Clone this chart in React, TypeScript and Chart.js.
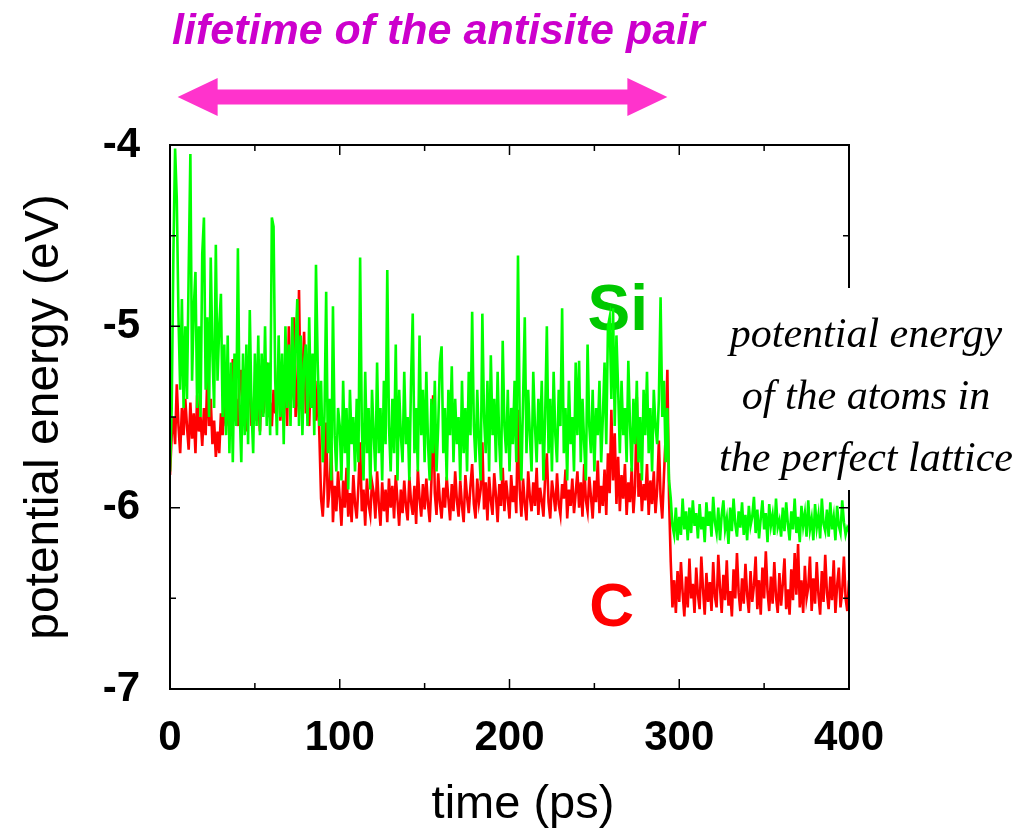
import React, { useEffect, useRef } from "react";
import { Chart, registerables } from "chart.js";

Chart.register(...registerables);

// Potential energy of the Si atom (eV), one sample per ps, t = 0 .. 400
const siEnergy = [
  -5.80, -5.45, -4.60, -4.02, -4.30, -4.95, -5.35, -4.85, -5.45, -5.00,
  -5.40, -4.70, -4.05, -5.30, -4.90, -4.70, -5.45, -5.00, -5.50, -4.60,
  -4.40, -5.35, -4.95, -5.50, -4.62, -5.15, -5.45, -4.55, -5.30, -5.00,
  -4.82, -5.50, -5.10, -5.60, -5.05, -5.70, -5.20, -5.75, -5.15, -5.55,
  -4.57, -5.45, -5.75, -5.15, -5.60, -5.10, -5.65, -4.91, -5.45, -5.70,
  -5.15, -5.55, -5.05, -5.60, -5.15, -5.50, -5.00, -5.55, -5.20, -5.60,
  -4.40, -4.45, -5.30, -5.60, -5.05, -5.50, -5.15, -5.65, -5.00, -5.45,
  -5.10, -5.55, -4.95, -5.45, -5.10, -4.85, -5.55, -5.05, -5.60, -5.20,
  -5.10, -5.55, -4.95, -5.45, -5.15, -5.60, -4.66, -5.20, -5.55, -5.30,
  -5.75, -5.50, -4.81, -5.70, -5.40, -5.85, -4.89, -5.60, -5.80, -5.45,
  -5.55, -5.85, -5.30, -5.70, -5.45, -5.90, -5.35, -5.65, -5.50, -5.80,
  -5.40, -5.75, -4.62, -5.55, -5.85, -5.25, -5.70, -5.45, -5.90, -5.35,
  -5.60, -5.80, -5.20, -5.70, -5.45, -5.85, -5.30, -5.65, -4.69, -5.55,
  -5.80, -5.40, -5.70, -5.10, -5.85, -5.35, -5.60, -5.75, -5.25, -5.65,
  -5.50, -5.85, -5.30, -4.93, -5.70, -5.45, -5.80, -5.05, -5.60, -5.35,
  -5.75, -5.25, -5.65, -5.85, -5.40, -5.70, -5.30, -5.80, -5.55, -5.20,
  -5.11, -5.70, -5.45, -5.85, -5.35, -5.60, -5.22, -5.75, -5.40, -5.65,
  -5.50, -5.85, -5.30, -5.70, -5.45, -5.80, -5.25, -5.60, -4.92, -5.55,
  -5.75, -5.35, -5.65, -5.85, -4.93, -5.50, -5.70, -5.30, -5.80, -5.16,
  -5.60, -5.40, -5.75, -5.25, -5.65, -5.85, -5.08, -5.55, -5.70, -5.35,
  -5.80, -5.45, -5.65, -5.30, -5.75, -4.61, -5.50, -5.85, -5.40, -4.95,
  -5.70, -5.35, -5.60, -5.80, -5.25, -5.55, -5.75, -5.40, -5.65, -5.30,
  -5.85, -5.50, -5.00, -5.70, -5.40, -5.80, -5.25, -5.60, -5.75, -5.35,
  -5.55, -4.90, -5.70, -5.45, -5.85, -5.30, -5.65, -5.50, -5.80, -5.20,
  -5.60, -5.19, -5.75, -5.40, -5.65, -5.85, -5.10, -5.55, -5.70, -5.35,
  -5.80, -5.45, -5.60, -5.30, -5.75, -5.50, -5.20, -5.65, -5.00, -4.95,
  -5.40, -4.90, -5.55, -5.05, -5.35, -5.70, -5.30, -5.60, -5.45, -5.75,
  -5.19, -5.55, -5.80, -5.40, -5.65, -5.30, -5.75, -5.50, -5.85, -5.35,
  -5.60, -5.25, -5.70, -5.45, -5.80, -5.35, -5.55, -5.65, -5.40, -4.84,
  -5.50, -5.30, -5.75, -5.45, -5.85, -5.95, -6.10, -6.15, -6.00, -6.18,
  -6.05, -6.15, -5.95, -6.12, -6.02, -6.18, -6.00, -6.14, -5.96, -6.10,
  -6.03, -6.17, -5.98, -6.12, -6.05, -6.19, -5.97, -6.10, -6.02, -6.16,
  -5.94, -6.08, -6.14, -6.00, -6.18, -6.04, -5.96, -6.12, -6.06, -6.20,
  -6.00, -6.13, -5.95, -6.09, -6.16, -6.02, -6.11, -5.97, -6.15, -6.04,
  -6.18, -5.99, -6.10, -6.05, -5.94, -6.14, -6.01, -6.17, -6.06, -5.96,
  -6.12, -6.03, -6.19, -5.98, -6.10, -6.04, -6.15, -5.95, -6.11, -6.07,
  -6.16, -6.00, -6.13, -5.97, -6.09, -6.18, -6.02, -6.12, -5.95, -6.14,
  -6.05, -6.19, -5.99, -6.10, -6.03, -6.16, -5.96, -6.12, -6.06, -6.18,
  -5.98, -6.11, -6.04, -6.17, -5.95, -6.09, -6.13, -6.01, -6.16, -5.97,
  -6.12, -6.05, -6.18, -5.99, -6.10, -6.14, -5.96, -6.08, -6.15, -6.11,
  -6.13,
];

// Potential energy of the C atom (eV), one sample per ps, t = 0 .. 400
const cEnergy = [
  -5.82, -5.60, -5.50, -5.65, -5.32, -5.55, -5.70, -5.45, -5.60, -5.40,
  -5.55, -5.68, -5.42, -5.62, -5.48, -5.70, -5.38, -5.58, -5.50, -5.66,
  -5.45, -5.60, -5.27, -5.55, -5.40, -5.65, -5.52, -5.72, -5.58, -5.70,
  -5.48, -5.60, -5.40, -5.55, -5.35, -5.62, -5.45, -5.18, -5.50, -5.40,
  -5.55, -5.32, -5.24, -5.50, -5.38, -5.58, -5.42, -5.30, -5.55, -5.45,
  -5.35, -5.52, -5.40, -5.58, -5.30, -5.48, -5.38, -5.20, -5.50, -5.42,
  -5.55, -5.35, -5.48, -5.40, -5.16, -5.52, -5.38, -5.45, -5.30, -5.55,
  -5.00, -5.42, -5.35, -4.95, -5.50, -5.40, -4.80, -5.45, -5.30, -5.03,
  -5.48, -5.35, -5.55, -5.25, -5.45, -5.38, -5.52, -5.30, -5.60, -5.95,
  -6.05, -5.85, -5.53, -6.00, -5.90, -5.64, -6.08, -5.88, -6.02, -5.80,
  -5.95, -6.10, -5.85, -6.00, -5.78, -6.05, -5.92, -6.08, -5.82, -5.98,
  -6.06, -5.88, -5.64, -6.02, -5.90, -6.10, -5.84, -5.98, -6.04, -5.86,
  -5.92, -6.06, -5.80, -5.98, -6.10, -5.86, -6.02, -5.90, -6.08, -5.84,
  -6.00, -5.88, -6.06, -5.82, -5.96, -6.10, -5.90, -6.03, -5.85, -5.99,
  -6.07, -5.83, -5.97, -6.04, -5.88, -6.09, -5.79, -5.95, -6.05, -5.87,
  -6.01, -5.84, -5.98, -6.08, -5.86, -5.38, -5.92, -6.04, -5.81, -5.97,
  -6.06, -5.89, -6.00, -5.83, -5.95, -6.07, -5.87, -6.02, -5.80, -5.96,
  -6.05, -5.85, -5.99, -6.08, -5.82, -5.94, -6.03, -5.88, -5.76, -5.98,
  -6.06, -5.84, -5.97, -5.90, -5.64, -6.01, -5.86, -6.07, -5.83, -5.96,
  -6.04, -5.81, -5.93, -6.08, -5.87, -5.99, -5.78, -6.02, -5.85, -5.95,
  -6.06, -5.82, -5.97, -5.88, -6.03, -5.46, -5.90, -6.05, -5.84, -5.98,
  -6.07, -5.80, -5.94, -6.02, -5.86, -5.99, -5.78, -6.04, -5.89, -5.96,
  -6.05, -5.83, -5.70, -5.97, -6.06, -5.85, -5.93, -6.02, -5.81, -5.98,
  -6.04, -5.87, -5.95, -5.79, -6.06, -5.90, -5.99, -5.84, -6.03, -5.92,
  -5.80, -6.00, -5.86, -6.05, -5.76, -5.96, -6.02, -5.83, -5.94, -6.06,
  -5.85, -5.97, -5.74, -6.03, -5.88, -5.99, -5.79, -6.04, -5.70, -5.92,
  -5.46, -5.85, -5.59, -5.98, -5.72, -6.02, -5.82, -5.95, -5.76, -6.04,
  -5.86, -5.97, -5.78, -6.03, -5.88, -5.39, -5.94, -5.81, -6.02, -5.87,
  -5.96, -5.76, -6.04, -5.85, -5.98, -5.80, -6.03, -5.90, -5.63, -5.94,
  -6.06, -5.82, -5.60, -5.24, -5.95, -6.30, -6.55, -6.40, -6.58, -6.35,
  -6.52, -6.30, -6.47, -6.60, -6.38, -6.55, -6.28, -6.50, -6.42, -6.58,
  -6.33, -6.48, -6.56, -6.27, -6.45, -6.59, -6.36, -6.52, -6.41, -6.57,
  -6.30, -6.49, -6.55, -6.26, -6.44, -6.58, -6.37, -6.51, -6.29, -6.54,
  -6.46, -6.60, -6.34, -6.50, -6.25, -6.47, -6.57, -6.39, -6.53, -6.31,
  -6.48, -6.58, -6.35, -6.52, -6.43, -6.27, -6.56, -6.40, -6.59, -6.33,
  -6.50, -6.24, -6.46, -6.57, -6.38, -6.53, -6.30, -6.49, -6.58, -6.36,
  -6.54, -6.42, -6.28, -6.56, -6.45, -6.59, -6.34, -6.51, -6.25, -6.48,
  -6.20, -6.55, -6.40, -6.58, -6.32, -6.50, -6.44, -6.27, -6.57, -6.39,
  -6.53, -6.30, -6.48, -6.59, -6.35, -6.52, -6.26, -6.47, -6.56, -6.38,
  -6.51, -6.29, -6.58, -6.43, -6.33, -6.55, -6.46, -6.27, -6.50, -6.57,
  -6.40,
];

const timeStepPs = 1;
const xTickValues = [0, 100, 200, 300, 400];
const xMinorTicks = [50, 150, 250, 350];
const yTickValues = [-7, -6, -5, -4];
const yMinorTicks = [-6.5, -5.5, -4.5];

const chartTitle = "lifetime of the antisite pair";
const arrowFromPs = 4.5;
const arrowToPs = 293;
const xAxisTitle = "time (ps)";
const yAxisTitle = "potential energy (eV)";
const noteLines = ["potential energy", "of the atoms in", "the perfect lattice"];
const siLabel = { text: "Si", t: 246, e: -5.02 };
const cLabel = { text: "C", t: 247, e: -6.65 };

const SANS = "'Liberation Sans', Arial, Helvetica, sans-serif";
const SERIF = "'Liberation Serif', 'Times New Roman', serif";

const decorPlugin = {
  id: "decor",
  beforeDatasetsDraw(chart: any) {
    const { ctx, scales } = chart;
    const x = scales.x;
    const y = scales.y;
    ctx.save();
    ctx.textAlign = "left";
    ctx.textBaseline = "alphabetic";
    ctx.font = `bold 64px ${SANS}`;
    ctx.fillStyle = "#00c800";
    ctx.fillText(siLabel.text, x.getPixelForValue(siLabel.t), y.getPixelForValue(siLabel.e));
    ctx.font = `bold 62px ${SANS}`;
    ctx.fillStyle = "#ff0000";
    ctx.fillText(cLabel.text, x.getPixelForValue(cLabel.t), y.getPixelForValue(cLabel.e));
    ctx.restore();
  },
  afterDatasetsDraw(chart: any) {
    const { ctx, chartArea, scales } = chart;
    const { left, right, top, bottom } = chartArea;
    const x = scales.x;
    const y = scales.y;
    ctx.save();
    ctx.strokeStyle = "#000";
    ctx.lineWidth = 2;
    ctx.strokeRect(left, top, right - left, bottom - top);
    ctx.lineWidth = 1.5;
    ctx.beginPath();
    const xt = (v: number, len: number) => {
      const px = x.getPixelForValue(v);
      ctx.moveTo(px, bottom);
      ctx.lineTo(px, bottom - len);
      ctx.moveTo(px, top);
      ctx.lineTo(px, top + len);
    };
    const yt = (v: number, len: number) => {
      const py = y.getPixelForValue(v);
      ctx.moveTo(left, py);
      ctx.lineTo(left + len, py);
      ctx.moveTo(right, py);
      ctx.lineTo(right - len, py);
    };
    xTickValues.forEach((v) => xt(v, 10));
    xMinorTicks.forEach((v) => xt(v, 6));
    yTickValues.forEach((v) => yt(v, 10));
    yMinorTicks.forEach((v) => yt(v, 6));
    ctx.stroke();
    ctx.restore();
  },
  afterDraw(chart: any) {
    const { ctx, scales } = chart;
    const x = scales.x;
    ctx.save();
    // title
    ctx.font = `italic bold 43px ${SANS}`;
    ctx.fillStyle = "#cc00cc";
    ctx.textAlign = "left";
    ctx.textBaseline = "alphabetic";
    ctx.fillText(chartTitle, 172, 44);
    // x axis title
    ctx.font = `47px ${SANS}`;
    ctx.fillStyle = "#000";
    ctx.textAlign = "center";
    ctx.textBaseline = "middle";
    ctx.fillText(xAxisTitle, 523, 805);
    // double arrow
    const x0 = x.getPixelForValue(arrowFromPs);
    const x1 = x.getPixelForValue(arrowToPs);
    const cy = 97;
    const headLen = 40;
    const headHalf = 19;
    const shaftHalf = 7.5;
    ctx.fillStyle = "#ff33cc";
    ctx.beginPath();
    ctx.moveTo(x0, cy);
    ctx.lineTo(x0 + headLen, cy - headHalf);
    ctx.lineTo(x0 + headLen, cy - shaftHalf);
    ctx.lineTo(x1 - headLen, cy - shaftHalf);
    ctx.lineTo(x1 - headLen, cy - headHalf);
    ctx.lineTo(x1, cy);
    ctx.lineTo(x1 - headLen, cy + headHalf);
    ctx.lineTo(x1 - headLen, cy + shaftHalf);
    ctx.lineTo(x0 + headLen, cy + shaftHalf);
    ctx.lineTo(x0 + headLen, cy + headHalf);
    ctx.closePath();
    ctx.fill();
    // note box
    ctx.fillStyle = "#ffffff";
    ctx.fillRect(712, 288, 314, 202);
    ctx.fillStyle = "#000";
    ctx.font = `italic 42px ${SERIF}`;
    ctx.textAlign = "center";
    ctx.textBaseline = "alphabetic";
    noteLines.forEach((line, i) => {
      ctx.fillText(line, 866, 347 + i * 62);
    });
    ctx.restore();
  },
};

export default function App() {
  const canvasRef = useRef<HTMLCanvasElement>(null);

  useEffect(() => {
    const canvas = canvasRef.current;
    if (!canvas) return;
    const toPoints = (arr: number[]) => arr.map((v, i) => ({ x: i * timeStepPs, y: v }));
    const tickFont = { family: SANS, size: 42, weight: "bold" as const };
    const titleFont = { family: SANS, size: 48, weight: "normal" as const, lineHeight: 1.2 };
    const chart = new Chart(canvas, {
      type: "line",
      data: {
        datasets: [
          {
            label: "Si",
            data: toPoints(siEnergy),
            borderColor: "#00ff00",
            borderWidth: 2.6,
            pointRadius: 0,
            tension: 0,
            fill: false,
            order: 0,
          },
          {
            label: "C",
            data: toPoints(cEnergy),
            borderColor: "#ff0000",
            borderWidth: 2.6,
            pointRadius: 0,
            tension: 0,
            fill: false,
            order: 1,
          },
        ],
      },
      options: {
        animation: false,
        responsive: false,
        events: [],
        layout: { padding: { left: 0, top: 145, right: 1036 - 849, bottom: 0 } },
        plugins: {
          legend: { display: false },
          tooltip: { enabled: false },
          title: { display: false },
        },
        scales: {
          x: {
            type: "linear",
            min: 0,
            max: 400,
            afterBuildTicks: (s: any) => {
              s.ticks = xTickValues.map((v) => ({ value: v }));
            },
            afterFit: (s: any) => {
              s.height = 832 - 689;
            },
            grid: { display: false, drawTicks: false },
            border: { display: false },
            ticks: {
              font: tickFont,
              color: "#000",
              padding: 24,
              maxRotation: 0,
              autoSkip: false,
              callback: (v: any) => String(v),
            },
            title: { display: false, text: xAxisTitle },
          },
          y: {
            type: "linear",
            min: -7,
            max: -4,
            afterBuildTicks: (s: any) => {
              s.ticks = yTickValues.map((v) => ({ value: v }));
            },
            afterFit: (s: any) => {
              s.width = 170;
            },
            grid: { display: false, drawTicks: false },
            border: { display: false },
            ticks: {
              font: tickFont,
              color: "#000",
              padding: 30,
              autoSkip: false,
              callback: (v: any) => String(v),
            },
            title: {
              display: true,
              text: yAxisTitle,
              font: titleFont,
              color: "#000",
              padding: { top: 16, bottom: 0 },
            },
          },
        },
      },
      plugins: [decorPlugin],
    });
    return () => chart.destroy();
  }, []);

  return (
    <div style={{ position: "absolute", left: 0, top: 0, width: 1036, height: 832, background: "#fff" }}>
      <canvas ref={canvasRef} width={1036} height={832} style={{ display: "block" }} />
    </div>
  );
}
